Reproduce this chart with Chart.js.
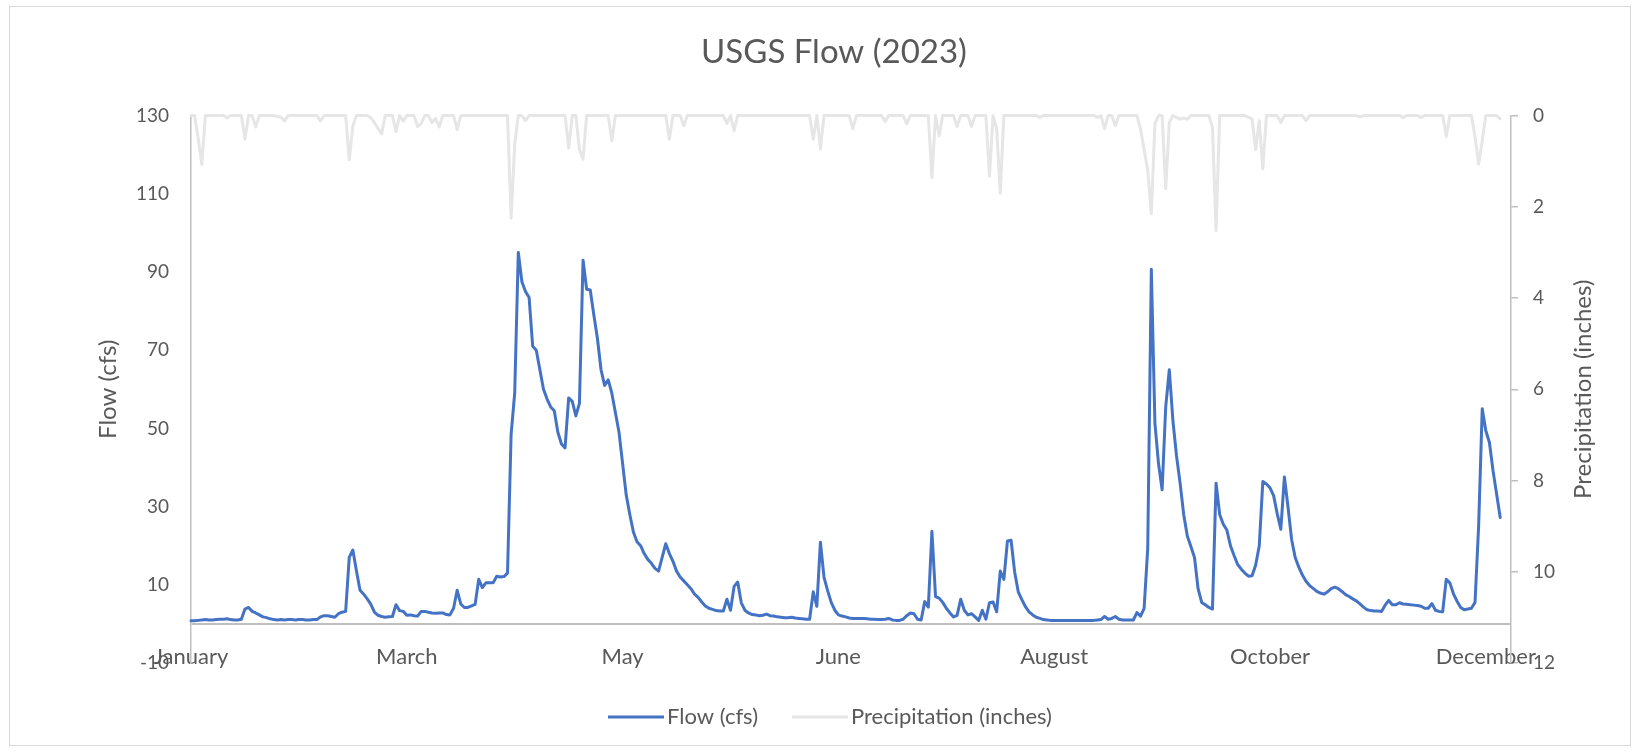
<!DOCTYPE html>
<html>
<head>
<meta charset="utf-8">
<script src="https://cdn.jsdelivr.net/npm/chart.js@4.4.1/dist/chart.umd.min.js"></script>
<style>
  html, body { margin: 0; padding: 0; background: #fff; overflow: hidden; }
  #frame { position: absolute; left: 9px; top: 6px; width: 1620px; height: 738px; border: 1px solid #d9d9d9; }
  #chart { position: absolute; left: 0; top: 0; }
</style>
</head>
<body>
<div id="frame"></div>
<canvas id="chart" width="1642" height="752"></canvas>
<script>
// daily values, 2023 (index = day of year, 0 = Jan 1)
const flow = [
  0.8, 0.8, 0.9, 1.0, 1.1, 1.0, 1.0, 1.1, 1.2, 1.2,
  1.3, 1.1, 1.0, 1.0, 1.2, 3.8, 4.2, 3.2, 2.8, 2.3,
  1.8, 1.6, 1.3, 1.1, 1.0, 1.1, 1.0, 1.1, 1.1, 1.0,
  1.1, 1.1, 1.0, 1.0, 1.1, 1.1, 1.8, 2.1, 2.1, 1.9,
  1.7, 2.6, 3.0, 3.2, 17.0, 18.9, 13.5, 8.6, 7.6, 6.4,
  5.0, 3.0, 2.2, 1.9, 1.7, 1.8, 1.9, 4.9, 3.4, 3.2,
  2.2, 2.3, 2.1, 2.0, 3.2, 3.2, 3.0, 2.8, 2.7, 2.8,
  2.8, 2.4, 2.3, 4.0, 8.6, 5.1, 4.2, 4.2, 4.6, 5.0,
  11.4, 9.3, 10.5, 10.5, 10.5, 12.2, 12.0, 12.1, 13.0, 48.5,
  59, 95, 87.5, 85, 83.5, 71, 70, 65, 60, 57.5,
  55.5, 54.5, 49, 46, 45, 57.8, 56.9, 53.2, 56.4, 93,
  85.6, 85.4, 79, 73, 65, 61, 62.4, 59, 54, 49,
  41, 33, 28, 23.5, 21, 20, 18, 16.5, 15.5, 14.2,
  13.5, 17, 20.5, 18, 16, 13.5, 12, 11, 10, 9,
  7.6, 6.8, 5.6, 4.6, 4.0, 3.7, 3.4, 3.3, 3.3, 6.3,
  3.5, 9.6, 10.7, 5.4, 3.5, 2.8, 2.4, 2.3, 2.1, 2.2,
  2.5, 2.1, 2.0, 1.8, 1.7, 1.6, 1.6, 1.7, 1.5, 1.4,
  1.3, 1.2, 1.2, 8.2, 4.5, 20.9, 11.9, 8.5, 5.5, 3.5,
  2.3, 2.0, 1.8, 1.5, 1.4, 1.4, 1.4, 1.4, 1.3, 1.2,
  1.2, 1.1, 1.1, 1.2, 1.4, 1.0, 0.9, 0.9, 1.2, 2.1,
  2.8, 2.6, 1.2, 1.0, 5.7, 4.3, 23.7, 7.0, 6.6, 5.5,
  4.0, 2.8, 1.8, 2.2, 6.3, 3.5, 2.3, 2.6, 1.8, 0.9,
  3.5, 1.2, 5.4, 5.6, 3.1, 13.5, 11.4, 21.2, 21.4, 13.3,
  8.2, 6.2, 4.4, 3.1, 2.3, 1.7, 1.4, 1.1, 1.0, 0.9,
  0.9, 0.9, 0.9, 0.9, 0.9, 0.9, 0.9, 0.9, 0.9, 0.9,
  0.9, 0.9, 1.0, 1.1, 1.9, 1.2, 1.4, 1.9, 1.2, 1.0,
  1.0, 1.0, 1.0, 2.9, 2.0, 4.0, 19.3, 90.7, 51.3, 41,
  34.3, 55.5, 65, 52, 43, 36, 28, 22.5, 19.8, 17,
  9, 5.5, 4.9, 4.2, 3.8, 36, 28, 25.5, 24, 20,
  17.5, 15.2, 14, 13, 12.2, 12.3, 15, 19.9, 36.4, 35.8,
  34.8, 32.8, 28.2, 24.2, 37.6, 29.9, 21.6, 17, 14.5, 12.5,
  10.9, 9.8, 9.1, 8.3, 7.9, 7.6, 8.2, 9.0, 9.4, 9.0,
  8.3, 7.5, 7.0, 6.4, 5.9, 5.1, 4.3, 3.6, 3.4, 3.3,
  3.3, 3.2, 4.8, 6.0, 4.9, 4.9, 5.4, 5.1, 5.0, 4.9,
  4.8, 4.7, 4.5, 4.0, 4.0, 5.2, 3.5, 3.2, 3.1, 11.4,
  10.5, 7.7, 5.8, 4.2, 3.6, 3.8, 4.0, 5.5, 25, 55,
  49.4, 46.4, 39.2, 33.2, 27.2
];

const precip = [
  0, 0, 0.5, 1.07, 0, 0, 0, 0, 0, 0,
  0.05, 0, 0, 0, 0, 0.52, 0, 0, 0.25, 0,
  0, 0, 0, 0, 0.02, 0.03, 0.12, 0, 0, 0,
  0, 0, 0, 0, 0, 0, 0.12, 0, 0, 0,
  0, 0, 0, 0, 0.97, 0.22, 0, 0, 0, 0,
  0.05, 0.15, 0.28, 0.4, 0, 0, 0, 0.35, 0, 0.12,
  0, 0, 0, 0.24, 0.17, 0, 0, 0.15, 0.06, 0.25,
  0, 0, 0, 0, 0.31, 0, 0, 0, 0, 0,
  0, 0, 0, 0, 0, 0, 0, 0, 0, 2.25,
  0.62, 0, 0, 0.11, 0, 0, 0, 0, 0, 0,
  0, 0, 0, 0, 0, 0.71, 0, 0, 0.75, 0.96,
  0, 0, 0, 0, 0, 0, 0, 0.55, 0, 0,
  0, 0, 0, 0, 0, 0, 0, 0, 0, 0,
  0, 0, 0, 0.52, 0, 0, 0, 0.22, 0, 0,
  0, 0, 0, 0, 0, 0, 0, 0, 0, 0.17,
  0, 0.33, 0, 0, 0, 0, 0, 0, 0, 0,
  0, 0, 0, 0, 0, 0, 0, 0, 0, 0,
  0, 0, 0, 0.52, 0, 0.73, 0, 0, 0, 0,
  0, 0, 0, 0, 0.29, 0, 0, 0, 0, 0,
  0, 0, 0, 0.13, 0, 0, 0, 0, 0, 0.18,
  0, 0, 0, 0, 0, 0, 1.36, 0, 0.44, 0,
  0, 0, 0, 0.24, 0, 0, 0, 0.24, 0, 0,
  0, 0, 1.33, 0, 0.29, 1.7, 0, 0, 0, 0,
  0, 0, 0, 0, 0, 0, 0.04, 0, 0, 0,
  0, 0, 0, 0, 0, 0, 0, 0, 0, 0,
  0, 0, 0.04, 0, 0.29, 0, 0, 0.22, 0, 0,
  0, 0, 0, 0, 0.3, 0.75, 1.2, 2.15, 0.18, 0,
  0, 1.6, 0.15, 0, 0.04, 0.08, 0.05, 0.08, 0, 0,
  0, 0, 0, 0, 0.26, 2.53, 0, 0, 0, 0,
  0, 0, 0, 0, 0.04, 0.07, 0.75, 0.11, 1.17, 0,
  0, 0, 0, 0.15, 0, 0, 0, 0, 0, 0,
  0.11, 0, 0, 0, 0, 0, 0, 0, 0, 0,
  0, 0, 0, 0, 0, 0.03, 0, 0, 0, 0,
  0, 0, 0, 0, 0, 0, 0, 0.04, 0, 0,
  0, 0, 0.04, 0, 0, 0, 0, 0, 0, 0.46,
  0, 0, 0, 0, 0, 0, 0, 0.47, 1.06, 0.55,
  0, 0, 0, 0, 0.07
];

// month names shown every 60 days on the category axis
const tickLabels = ['January', 'March', 'May', 'June', 'August', 'October', 'December'];
const tickEvery = 60;

// one category per day; the axis runs a few days past the last reading
const categories = [];
for (let i = 0; i < 368; i++) {
    const d = new Date(2023, 0, 1 + i);
    categories.push((d.getMonth() + 1) + '/' + d.getDate() + '/' + d.getFullYear());
}

const grey = '#595959';
const axisGrey = '#bfbfbf';
const font = 'Lato';
const flowColor = '#4472c4';
const precipColor = '#e6e6e6';

// legend swatches: a short line a bit wider than the legend box
function legendLine(color) {
    const c = document.createElement('canvas');
    c.width = 56;
    c.height = 4;
    const g = c.getContext('2d');
    g.fillStyle = color;
    g.fillRect(0, 0.5, 56, 3);
    return c;
}
const legendLines = [legendLine(flowColor), legendLine(precipColor)];

// secondary axis title reads bottom-to-top, like the primary one
const rightTitle = {
    id: 'rightTitle',
    afterDraw(chart) {
        const s = chart.scales.y1;
        const c = chart.ctx;
        c.save();
        c.translate(s.right - 59, (s.top + s.bottom) / 2);
        c.rotate(-Math.PI / 2);
        c.fillStyle = grey;
        c.font = '24px ' + font;
        c.textAlign = 'center';
        c.textBaseline = 'middle';
        c.fillText('Precipitation (inches)', 0, 0);
        c.restore();
    },
};

const ctx = document.getElementById('chart').getContext('2d');
const chart = new Chart(ctx, {
    type: 'line',
    data: {
        labels: categories,
        datasets: [{
            label: 'Flow (cfs)',
            data: flow,
            yAxisID: 'y',
            borderColor: flowColor,
            backgroundColor: flowColor,
            borderWidth: 3,
            pointRadius: 0,
            borderJoinStyle: 'round',
            borderCapStyle: 'round',
            fill: false,
            clip: 6,
        }, {
            label: 'Precipitation (inches)',
            data: precip,
            yAxisID: 'y1',
            borderColor: precipColor,
            backgroundColor: precipColor,
            borderWidth: 3,
            pointRadius: 0,
            borderJoinStyle: 'round',
            borderCapStyle: 'round',
            fill: false,
            clip: 6,
        }],
    },
    options: {
        responsive: false,
        animation: false,
        devicePixelRatio: 1,
        layout: { padding: { left: 26, right: 0, top: 0, bottom: 14 } },
        plugins: {
            tooltip: { enabled: false },
            title: {
                display: true,
                text: 'USGS Flow (2023)',
                color: grey,
                font: { family: font, size: 33, weight: 'normal' },
                padding: { top: 33, bottom: 43 },
            },
            legend: {
                position: 'bottom',
                labels: {
                    color: grey,
                    font: { family: font, size: 22 },
                    usePointStyle: true,
                    pointStyleWidth: 40,
                    padding: 42,
                    generateLabels: (ch) => Chart.defaults.plugins.legend.labels.generateLabels(ch)
                        .map((item, i) => Object.assign(item, { pointStyle: legendLines[i] })),
                },
            },
        },
        scales: {
            x: {
                type: 'category',
                offset: false,
                grid: { display: false },
                border: { display: false },
                ticks: {
                    autoSkip: false,
                    maxRotation: 0,
                    mirror: true,
                    color: grey,
                    font: { family: font, size: 22 },
                    padding: -7,
                    callback: (val, idx) => idx % tickEvery === 0 ? tickLabels[idx / tickEvery] : null,
                },
                afterFit: (scale) => { scale.height = 1; },
            },
            y: {
                position: 'left',
                min: -10,
                max: 130,
                afterBuildTicks: (scale) => {
                    // horizontal axis line crosses at 0
                    scale.ticks.push({ value: 0 });
                    scale.ticks.sort((a, b) => a.value - b.value);
                },
                ticks: {
                    stepSize: 20,
                    autoSkip: false,
                    color: grey,
                    font: { family: font, size: 19 },
                    padding: 22,
                    callback: (v) => v === 0 ? '' : v,
                },
                grid: {
                    drawTicks: false,
                    color: (c) => c.tick && c.tick.value === 0 ? axisGrey : 'rgba(0,0,0,0)',
                    lineWidth: 2,
                },
                border: { display: true, color: axisGrey, width: 1.5 },
                title: {
                    display: true,
                    text: 'Flow (cfs)',
                    color: grey,
                    font: { family: font, size: 24 },
                    padding: { top: 68, bottom: 0 },
                },
                afterFit: (scale) => { scale.width = 165; },
            },
            y1: {
                position: 'right',
                reverse: true,
                min: 0,
                max: 12,
                ticks: {
                    stepSize: 2,
                    color: grey,
                    font: { family: font, size: 19 },
                    padding: 15,
                },
                grid: {
                    drawOnChartArea: false,
                    drawTicks: true,
                    tickLength: 7,
                    color: axisGrey,
                    lineWidth: 1.5,
                },
                border: { display: true, color: axisGrey, width: 1.5 },
                afterFit: (scale) => { scale.width = 131; },
            },
        },
    },
    plugins: [rightTitle],
});
</script>
</body>
</html>
